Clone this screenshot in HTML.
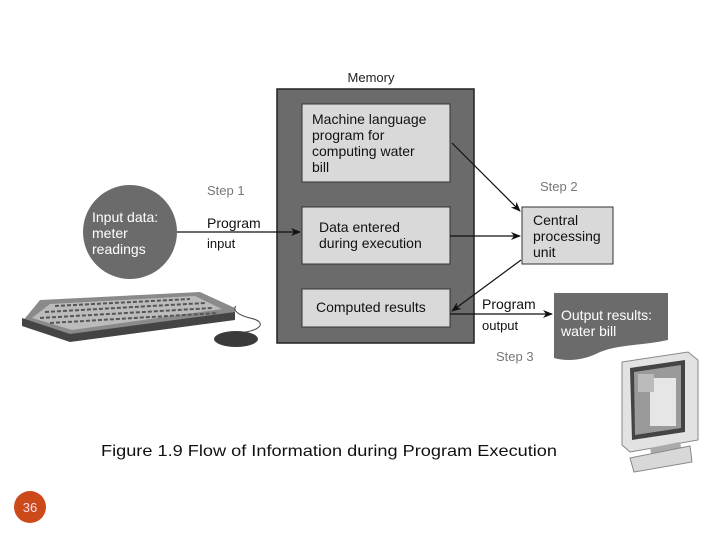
<!DOCTYPE html>
<html><head><meta charset="utf-8"><style>
html,body{margin:0;padding:0;background:#fff;width:720px;height:540px;overflow:hidden}
svg{display:block}
text{font-family:"Liberation Sans",Arial,sans-serif}
</style></head><body>
<svg width="720" height="540" viewBox="0 0 720 540" xmlns="http://www.w3.org/2000/svg">
<defs>
<marker id="a" markerWidth="10" markerHeight="8" refX="9" refY="4" orient="auto" markerUnits="userSpaceOnUse">
<path d="M0,0 L10,4 L0,8 L3,4 Z" fill="#111"/></marker>
</defs>
<text x="371" y="82" font-size="13" text-anchor="middle" fill="#222">Memory</text>
<rect x="277" y="89" width="197" height="254" fill="#6b6b6b" stroke="#222" stroke-width="1.5"/>
<rect x="302" y="104" width="148" height="78" fill="#d9d9d9" stroke="#333"/>
<rect x="302" y="207" width="148" height="57" fill="#d9d9d9" stroke="#333"/>
<rect x="302" y="289" width="148" height="38" fill="#d9d9d9" stroke="#333"/>
<g font-size="14" fill="#111">
<text x="312" y="124">Machine language</text>
<text x="312" y="140">program for</text>
<text x="312" y="156">computing water</text>
<text x="312" y="172">bill</text>
<text x="319" y="232">Data entered</text>
<text x="319" y="248">during execution</text>
<text x="316" y="312">Computed results</text>
</g>
<rect x="522" y="207" width="91" height="57" fill="#d9d9d9" stroke="#333"/>
<g font-size="14" fill="#111">
<text x="533" y="225">Central</text>
<text x="533" y="241">processing</text>
<text x="533" y="257">unit</text>
</g>
<circle cx="130" cy="232" r="47" fill="#6b6b6b"/>
<g font-size="14" fill="#fff">
<text x="92" y="222">Input data:</text>
<text x="92" y="238">meter</text>
<text x="92" y="254">readings</text>
</g>
<text x="207" y="195" font-size="13" fill="#777">Step 1</text>
<text x="207" y="228" font-size="14" fill="#111">Program</text>
<text x="207" y="248" font-size="13" fill="#111">input</text>
<text x="540" y="191" font-size="13" fill="#777">Step 2</text>
<text x="482" y="309" font-size="14" fill="#111">Program</text>
<text x="482" y="330" font-size="13" fill="#111">output</text>
<text x="496" y="361" font-size="13" fill="#777">Step 3</text>
<g stroke="#111" stroke-width="1.2" fill="none">
<line x1="177" y1="232" x2="300" y2="232" marker-end="url(#a)"/>
<line x1="452" y1="143" x2="520" y2="211" marker-end="url(#a)"/>
<line x1="450" y1="236" x2="520" y2="236" marker-end="url(#a)"/>
<line x1="521" y1="260" x2="452" y2="311" marker-end="url(#a)"/>
<line x1="450" y1="314" x2="552" y2="314" marker-end="url(#a)"/>
</g>
<path d="M554,293 L668,293 L668,340 C640,346 620,344 600,352 C585,360 568,362 554,358 Z" fill="#6b6b6b"/>
<text x="561" y="320" font-size="14" fill="#fff">Output results:</text>
<text x="561" y="336" font-size="14" fill="#fff">water bill</text>
<!-- keyboard -->
<path d="M40,300 L200,292 L235,308 L235,318 L70,340 L22,322 Z" fill="#8a8a8a"/>
<path d="M22,318 L70,334 L235,312 L235,320 L70,342 L22,326 Z" fill="#444"/>
<path d="M50,304 L195,296 L222,309 L72,330 L32,318 Z" fill="#bbb"/>
<path d="M55,306 L190,299 M45,312 L205,303 M40,318 L212,308 M50,323 L218,313" stroke="#555" stroke-width="2" stroke-dasharray="4 2"/>
<ellipse cx="236" cy="339" rx="22" ry="8" fill="#3a3a3a"/>
<path d="M245,332 C260,330 268,322 250,318 C238,315 232,310 236,306" stroke="#444" fill="none"/>
<!-- monitor -->
<path d="M622,362 L688,352 L698,360 L698,440 L630,452 L622,445 Z" fill="#e2e2e2" stroke="#888"/>
<path d="M630,368 L685,360 L685,432 L632,440 Z" fill="#444"/>
<path d="M634,372 L681,365 L681,428 L635,435 Z" fill="#9a9a9a"/>
<rect x="650" y="378" width="26" height="48" fill="#e6e6e6"/>
<rect x="638" y="374" width="16" height="18" fill="#bbb"/>
<path d="M650,448 L680,442 L682,452 L652,458 Z" fill="#aaa"/>
<path d="M630,458 L690,446 L692,462 L634,472 Z" fill="#d8d8d8" stroke="#888"/>
<text x="101" y="456" font-size="16" fill="#111" textLength="456" lengthAdjust="spacingAndGlyphs">Figure 1.9  Flow of Information during Program Execution</text>
<circle cx="30" cy="507" r="16" fill="#cc4a1a"/>
<text x="30" y="512" font-size="13" fill="#fde" text-anchor="middle">36</text>
</svg>
</body></html>
